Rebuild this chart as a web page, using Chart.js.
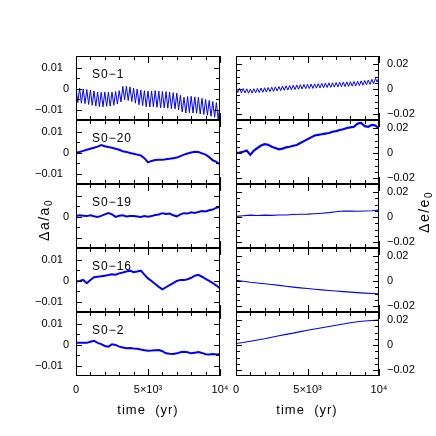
<!DOCTYPE html>
<html>
<head>
<meta charset="utf-8">
<script src="https://cdn.jsdelivr.net/npm/chart.js@4.4.1/dist/chart.umd.min.js"></script>
<style>
  html, body { margin: 0; padding: 0; background: #fff; }
  #wrap { position: relative; width: 436px; height: 436px; overflow: hidden;
          font-family: "Liberation Sans", Arial, sans-serif; color: #000; }
  #wrap canvas { position: absolute; }
  .name { position: absolute; font-size: 12px; line-height: 12px; letter-spacing: 1px; white-space: nowrap; }
  .xtitle { position: absolute; font-size: 13px; line-height: 14px; letter-spacing: 1px;
            white-space: nowrap; transform: translateX(-50%); }
  .ytitle { position: absolute; font-size: 14px; line-height: 16px; letter-spacing: 1.5px;
            white-space: nowrap; transform: translate(-50%, -50%) rotate(-90deg); }
  .ytitle sub { font-size: 10px; vertical-align: -3px; line-height: 0; }
</style>
</head>
<body>
<div id="wrap"></div>
<script>
// sampling step of the time axis (yr)
const TIME_STEP = 250;
const COARSE_STEP = 500;

// S0-1: fast oscillation, upper and lower turning points
const s01aHigh = [0.0005, 0.0003, 0.0, -0.0003, -0.0005, -0.001, -0.0015, -0.0016, -0.0015, -0.0016,
  -0.0015, -0.0012, -0.0008, 0.0012, 0.0013, 0.001, 0.0004, 0.0, -0.0005, -0.0008,
  -0.001, -0.001, -0.0008, -0.001, -0.0012, -0.0013, -0.0015, -0.0018, -0.002, -0.003,
  -0.004, -0.0036, -0.0035, -0.0038, -0.004, -0.0045, -0.005, -0.0055, -0.006, -0.0065, -0.007];
const s01aLow = [-0.0065, -0.0068, -0.007, -0.0074, -0.0078, -0.0082, -0.0085, -0.0085, -0.0083, -0.0082,
  -0.0078, -0.0072, -0.0062, -0.0052, -0.0055, -0.006, -0.0068, -0.0075, -0.008, -0.0085,
  -0.0086, -0.0085, -0.0088, -0.009, -0.009, -0.0092, -0.0094, -0.0095, -0.01, -0.011,
  -0.0115, -0.0113, -0.0115, -0.0116, -0.012, -0.0122, -0.0125, -0.013, -0.0135, -0.0145];
const s01eHigh = [0.0008, 0.0006, 0.0004, 0.0002, 0.0, 0.0002, 0.0005, 0.0008, 0.001, 0.0012,
  0.0015, 0.0017, 0.002, 0.0023, 0.0026, 0.0028, 0.003, 0.0032, 0.0034, 0.0036,
  0.0038, 0.004, 0.0041, 0.0043, 0.0045, 0.0047, 0.0049, 0.005, 0.0052, 0.0054,
  0.0055, 0.0056, 0.0058, 0.006, 0.0062, 0.0065, 0.0068, 0.0072, 0.0077, 0.0085, 0.0095];
const s01eLow = [-0.0028, -0.003, -0.0032, -0.0034, -0.0033, -0.003, -0.0028, -0.0026, -0.0024, -0.0021,
  -0.0019, -0.0016, -0.0013, -0.001, -0.0008, -0.0006, -0.0004, -0.0002, 0.0, 0.0002,
  0.0004, 0.0005, 0.0007, 0.0009, 0.001, 0.0012, 0.0013, 0.0015, 0.0017, 0.0018,
  0.002, 0.0021, 0.0023, 0.0025, 0.0027, 0.003, 0.0033, 0.0037, 0.0042, 0.0055];

// S0-20 (every 250 yr)
const s020a = [0.0003, 0.0005, 0.001, 0.0015, 0.002, 0.0025, 0.003, 0.0038, 0.0032, 0.0028,
  0.0025, 0.002, 0.0015, 0.0008, 0.0005, 0.0, -0.0004, -0.0008, -0.0012, -0.0025,
  -0.0045, -0.0038, -0.0034, -0.0032, -0.0033, -0.003, -0.0028, -0.0025, -0.0022, -0.0015,
  -0.0008, -0.0003, 0.0002, 0.0006, 0.0004, -0.0002, -0.0008, -0.002, -0.0035, -0.0042, -0.0055];
const s020e = [0.0, 0.0003, 0.001, 0.002, -0.0015, 0.002, 0.004, 0.006, 0.007, 0.0065,
  0.005, 0.004, 0.003, 0.0035, 0.0045, 0.005, 0.0058, 0.0064, 0.008, 0.0095,
  0.011, 0.0125, 0.014, 0.0145, 0.015, 0.0155, 0.016, 0.017, 0.0175, 0.0184,
  0.019, 0.02, 0.0205, 0.021, 0.0235, 0.024, 0.0215, 0.021, 0.0225, 0.022, 0.0195];

// S0-19
const s019a = [0.0005, 0.0008, 0.0006, 0.0004, 0.0008, 0.0003, 0.0, 0.0005, 0.0012, 0.0018,
  0.0012, 0.0, 0.0006, 0.0008, 0.0002, 0.0005, 0.0004, 0.0002, 0.0, 0.0004,
  0.0001, 0.0004, 0.0009, 0.0012, 0.0018, 0.0014, 0.0016, 0.0008, 0.0003, 0.0012,
  0.0018, 0.0016, 0.0022, 0.0019, 0.0024, 0.0028, 0.0026, 0.0032, 0.0035, 0.0044, 0.0048];
const s019e = [0.0005, 0.001, 0.0015, 0.0012, 0.0015, 0.0013, 0.0016, 0.0016, 0.002, 0.0022,
  0.0023, 0.0026, 0.003, 0.0035, 0.0042, 0.0048, 0.0047, 0.0046, 0.0048, 0.005, 0.0055];

// S0-16
const s016a = [-0.0003, 0.0, 0.0005, -0.0011, 0.0005, 0.0018, 0.002, 0.0022, 0.0025, 0.0028,
  0.0032, 0.003, 0.0036, 0.004, 0.0045, 0.0049, 0.0042, 0.0045, 0.0049, 0.003,
  0.0012, 0.0, -0.0015, -0.0028, -0.004, -0.003, -0.002, -0.001, 0.0, 0.0005,
  0.0004, 0.0008, 0.0015, 0.0025, 0.0029, 0.002, 0.001, 0.0, -0.001, -0.0022, -0.0035];
const s016e = [0.0005, -0.0002, -0.001, -0.0016, -0.0022, -0.0028, -0.0035, -0.0042, -0.0049, -0.0055,
  -0.006, -0.0066, -0.0071, -0.0076, -0.008, -0.0085, -0.0089, -0.0093, -0.0097, -0.01, -0.0103];

// S0-2
const s02a = [0.0011, 0.001, 0.001, 0.001, 0.0015, 0.002, 0.001, 0.0004, -0.0005, -0.0008,
  0.0003, 0.0, -0.0008, -0.0012, -0.0016, -0.0015, -0.0017, -0.0018, -0.0022, -0.0025,
  -0.0028, -0.0027, -0.0025, -0.0024, -0.003, -0.004, -0.0042, -0.0043, -0.004, -0.0035,
  -0.0032, -0.0035, -0.004, -0.0037, -0.0034, -0.0038, -0.0044, -0.0045, -0.0043, -0.0045, -0.0043];
const s02e = [0.0012, 0.002, 0.003, 0.004, 0.005, 0.0062, 0.0074, 0.0085, 0.0095, 0.0107,
  0.0118, 0.0128, 0.0138, 0.0148, 0.0158, 0.0168, 0.0178, 0.0186, 0.0192, 0.0196, 0.02];

const names = ['S0\u22121', 'S0\u221220', 'S0\u221219', 'S0\u221216', 'S0\u22122'];

const xTicks = [0, 5000, 10000];
const xTickLabels = ['0', '5\u00d710\u00b3', '10\u2074'];
const xMinorTicks = [0, 1000, 2000, 3000, 4000, 5000, 6000, 7000, 8000, 9000, 10000];

const aTicks = [-0.01, 0, 0.01];
const aTickLabels = ['\u22120.01  ', '0', '0.01  '];
const aMinorTicks = [-0.01, -0.005, 0, 0.005, 0.01];
const eTicks = [-0.02, 0, 0.02];
const eTickLabels = ['\u22120.02', '0', '0.02'];
const eMinorTicks = [-0.02, -0.015, -0.01, -0.005, 0, 0.005, 0.01, 0.015, 0.02];

const FONT = '"Liberation Sans", Arial, sans-serif';
const BLUE = '#0000ff';
const PANEL_TOP = 56, PANEL_H = 64;

function series(values, step) {
  return values.map((v, i) => ({ x: i * step, y: v }));
}
function zigzag(high, low, step) {
  const pts = [];
  high.forEach((v, i) => {
    pts.push({ x: i * step, y: v });
    if (i < low.length) pts.push({ x: i * step + step / 2, y: low[i] });
  });
  return pts;
}
// keep the plot box at the size given by the layout padding
function noEdgePadding(s) {
  s.paddingTop = 0; s.paddingBottom = 0; s.paddingLeft = 0; s.paddingRight = 0;
}

// frame plus inward ticks on all four sides
const frameTicks = {
  id: 'frameTicks',
  afterDatasetsDraw(chart, args, opts) {
    const { ctx, chartArea: a, scales: { x, y } } = chart;
    const L = Math.round(a.left), R = Math.round(a.right), T = Math.round(a.top), B = Math.round(a.bottom);
    ctx.save();
    ctx.strokeStyle = '#000';
    ctx.lineWidth = 1;
    ctx.beginPath();
    xMinorTicks.forEach(t => {
      const px = Math.round(x.getPixelForValue(t)) + 0.5;
      const len = xTicks.includes(t) ? 7 : 4;
      ctx.moveTo(px, T); ctx.lineTo(px, T + len);
      ctx.moveTo(px, B); ctx.lineTo(px, B - len);
    });
    opts.minor.forEach(v => {
      const py = Math.round(y.getPixelForValue(v)) + 0.5;
      const len = opts.major.includes(v) ? 6 : 4;
      ctx.moveTo(L, py); ctx.lineTo(L + len, py);
      ctx.moveTo(R, py); ctx.lineTo(R - len, py);
    });
    ctx.stroke();
    ctx.strokeRect(L + 0.5, T + 0.5, R - L - 1, B - T - 1);
    ctx.restore();
  }
};

const wrap = document.getElementById('wrap');

function makePanel(row, col, data, width, yLabels) {
  const isLeft = col === 0, isBottom = row === 4;
  const w = isLeft ? 236 : 212;
  const h = isBottom ? 100 : 84;
  const cv = document.createElement('canvas');
  cv.width = w; cv.height = h;
  cv.style.width = w + 'px'; cv.style.height = h + 'px';
  cv.style.left = (isLeft ? 0 : 224) + 'px';
  cv.style.top = (PANEL_TOP + row * PANEL_H - 10) + 'px';
  wrap.appendChild(cv);

  const yTicks = isLeft ? aTicks : eTicks;
  new Chart(cv, {
    type: 'line',
    data: { datasets: [{ data: data, borderColor: BLUE, borderWidth: width, pointRadius: 0, tension: 0, fill: false }] },
    plugins: [frameTicks],
    options: {
      responsive: false,
      animation: false,
      devicePixelRatio: 1,
      layout: { padding: { left: isLeft ? 0 : 12, right: isLeft ? 16 : 0, top: 10, bottom: isBottom ? 0 : 10 } },
      plugins: {
        legend: { display: false },
        tooltip: { enabled: false },
        frameTicks: { major: yTicks, minor: isLeft ? aMinorTicks : eMinorTicks }
      },
      scales: {
        x: {
          type: 'linear', min: 0, max: 10000, display: isBottom,
          grid: { display: false, drawTicks: false }, border: { display: false },
          afterBuildTicks: s => { s.ticks = xTicks.map(v => ({ value: v })); },
          afterFit: s => { s.height = isBottom ? 26 : 0; noEdgePadding(s); },
          ticks: { autoSkip: false, maxRotation: 0, padding: 7, color: '#000',
                   font: { family: FONT, size: 11 },
                   callback: (v, i) => xTickLabels[i] }
        },
        y: {
          type: 'linear', position: isLeft ? 'left' : 'right',
          min: isLeft ? -0.0148 : -0.0248, max: isLeft ? 0.0157 : 0.0264,
          grid: { display: false, drawTicks: false }, border: { display: false },
          afterBuildTicks: s => { s.ticks = yTicks.map(v => ({ value: v })); },
          afterFit: s => { s.width = isLeft ? 76 : 57; noEdgePadding(s); },
          ticks: { autoSkip: false, padding: isLeft ? 7 : 8, color: '#000',
                   font: { family: FONT, size: 11 },
                   callback: (v, i) => yLabels[i] }
        }
      }
    }
  });

  if (isLeft) {
    const lbl = document.createElement('div');
    lbl.className = 'name';
    lbl.textContent = names[row];
    lbl.style.left = '92px';
    lbl.style.top = (PANEL_TOP + row * PANEL_H + 12) + 'px';
    wrap.appendChild(lbl);
  }
}

const leftData = [zigzag(s01aHigh, s01aLow, TIME_STEP), series(s020a, TIME_STEP), series(s019a, TIME_STEP),
                  series(s016a, TIME_STEP), series(s02a, TIME_STEP)];
const rightData = [zigzag(s01eHigh, s01eLow, TIME_STEP), series(s020e, TIME_STEP), series(s019e, COARSE_STEP),
                   series(s016e, COARSE_STEP), series(s02e, COARSE_STEP)];
const leftWidths = [1, 2, 2, 2, 2];
const rightWidths = [1, 2.2, 1.2, 1.2, 1.2];

for (let r = 0; r < 5; r++) {
  makePanel(r, 0, leftData[r], leftWidths[r], r === 2 ? ['', '0', ''] : aTickLabels);
  makePanel(r, 1, rightData[r], rightWidths[r], eTickLabels);
}

// axis titles
function addDiv(cls, html, left, top) {
  const d = document.createElement('div');
  d.className = cls;
  d.innerHTML = html;
  d.style.left = left + 'px';
  d.style.top = top + 'px';
  wrap.appendChild(d);
}
addDiv('xtitle', 'time&nbsp;&nbsp;(yr)', 148, 403);
addDiv('xtitle', 'time&nbsp;&nbsp;(yr)', 307, 403);
addDiv('ytitle', '\u0394a/a<sub>0</sub>', 44, 220);
addDiv('ytitle', '\u0394e/e<sub>0</sub>', 424, 212);
</script>
</body>
</html>
